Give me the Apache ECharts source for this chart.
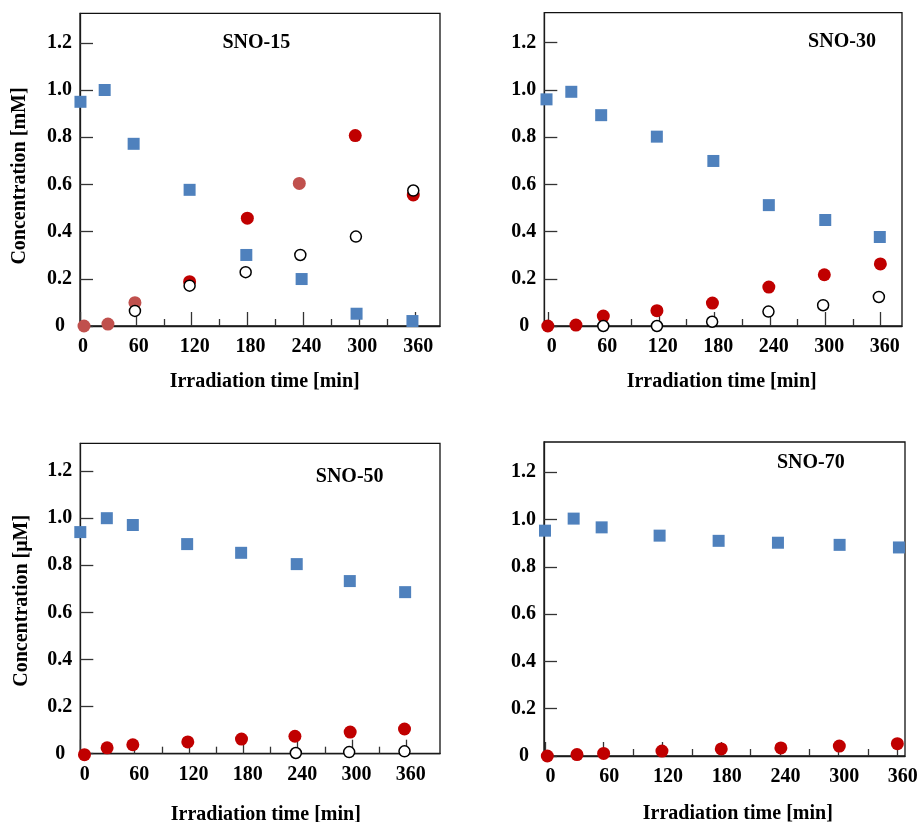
<!DOCTYPE html>
<html>
<head>
<meta charset="utf-8">
<script src="https://cdn.jsdelivr.net/npm/echarts@6/dist/echarts.min.js"></script>
<style>
html,body{margin:0;padding:0;background:#fff;}
#chart{width:921px;height:822px;}
</style>
</head>
<body>
<div id="chart"></div>
<script>
// ---- data ----
const timeTicks = [0, 60, 120, 180, 240, 300, 360];
const minorTimeTicks = [90, 150, 210, 270, 330];
const concTicks = [0, 0.2, 0.4, 0.6, 0.8, 1.0, 1.2];

const panelTitles = ['SNO-15', 'SNO-30', 'SNO-50', 'SNO-70'];
const xAxisTitle = 'Irradiation time [min]';
const yAxisTitles = ['Concentration [mM]', '', 'Concentration [\u03bcM]', ''];

// SNO-15
const sno15Blue  = [[0.5,0.95],[26.5,1.0],[57.6,0.772],[117.7,0.577],[178.6,0.301],[238,0.199],[297,0.052],[357,0.021]];
const sno15Brown = [[4.3,0.0],[30,0.008],[59,0.099],[235.5,0.604]];
const sno15Red   = [[117.7,0.188],[179.7,0.457],[295.6,0.807],[357.9,0.555]];
const sno15Open  = [[59,0.064],[117.7,0.171],[177.9,0.228],[236.6,0.301],[296.3,0.379],[357.9,0.574]];

// SNO-30
const sno30Blue  = [[-1.4,0.96],[25.4,0.992],[57.7,0.893],[117.9,0.802],[179,0.699],[239,0.512],[300,0.449],[359,0.377]];
const sno30Brown = [];
const sno30Red   = [[0,0.0],[30.4,0.004],[60,0.042],[118,0.065],[178,0.097],[239,0.165],[299,0.217],[359.6,0.263]];
const sno30Open  = [[60,0.0],[118,0.0],[177.7,0.018],[238.6,0.061],[297.7,0.088],[358,0.123]];

// SNO-50
const sno50Blue  = [[0,0.941],[29.3,1.0],[58,0.971],[118,0.89],[177.6,0.853],[239,0.805],[297.6,0.733],[358.7,0.686]];
const sno50Brown = [];
const sno50Red   = [[4.6,-0.004],[29.6,0.025],[58,0.038],[118.7,0.05],[178,0.062],[237,0.074],[298,0.092],[358,0.105]];
const sno50Open  = [[238,0.003],[296.9,0.007],[358,0.01]];

// SNO-70
const sno70Blue  = [[0,0.953],[29.3,1.004],[57.9,0.967],[117.1,0.932],[177.4,0.91],[238,0.902],[301,0.893],[361.6,0.882]];
const sno70Brown = [];
const sno70Red   = [[2.4,0.0],[32.7,0.006],[59.9,0.011],[119.5,0.021],[180.1,0.03],[241,0.034],[300.7,0.042],[360,0.052]];
const sno70Open  = [];

// axis extents per panel
const xMins = [0, -3.8, 0, -1];
const xMaxs = [386.6, 383, 397.2, 367.8];
const yMaxs = [1.325, 1.327, 1.318, 1.328];

// ---- layout / styles ----
const grids = [
  {left: 80,    top: 13.3,  width: 360,   height: 312.7},
  {left: 544.3, top: 12.7,  width: 357.7, height: 313.3},
  {left: 80.3,  top: 443.3, width: 359.7, height: 310.4},
  {left: 544,   top: 442,   width: 361,   height: 314}
];
const labelShift = [6, 8, 9, 11];
const titlePos = [[256.3, 43], [842, 41.7], [349.7, 477.3], [810.8, 463.3]];
const xNamePos = [[264.7, 381.5], [721.7, 381.5], [265.8, 815], [737.8, 814]];
const yNamePos = [[20, 176], null, [21.7, 600.8], null];

const FONT = 'Liberation Serif';
const axisCol = '#1a1a1a';
const tickCol = '#333';
const lbl = {fontFamily: FONT, fontWeight: 'bold', fontSize: 20, color: '#000'};

const panels = [
  [sno15Blue, sno15Brown, sno15Red, sno15Open],
  [sno30Blue, sno30Brown, sno30Red, sno30Open],
  [sno50Blue, sno50Brown, sno50Red, sno50Open],
  [sno70Blue, sno70Brown, sno70Red, sno70Open]
];

const option = {
  backgroundColor: '#fff',
  animation: false,
  grid: [], xAxis: [], yAxis: [], series: [], graphic: []
};

panels.forEach((p, i) => {
  const g = grids[i];
  option.grid.push(Object.assign({show: true, borderColor: '#111', borderWidth: 1.3, backgroundColor: 'transparent'}, g));
  option.xAxis.push({
    type: 'value', gridIndex: i, position: 'bottom', min: xMins[i], max: xMaxs[i],
    axisLine: {onZero: false, lineStyle: {color: axisCol, width: 1.3}},
    axisTick: {inside: true, length: 14, customValues: timeTicks, lineStyle: {color: tickCol, width: 1.3}},
    axisLabel: Object.assign({customValues: timeTicks, margin: 11, padding: [0, 0, 0, labelShift[i]]}, lbl),
    splitLine: {show: false}
  });
  option.xAxis.push({
    type: 'value', gridIndex: i, position: 'bottom', min: xMins[i], max: xMaxs[i],
    axisLine: {show: false, onZero: false},
    axisTick: {inside: true, length: 7, customValues: minorTimeTicks, lineStyle: {color: tickCol, width: 1.3}},
    axisLabel: {show: false},
    splitLine: {show: false}
  });
  option.yAxis.push({
    type: 'value', gridIndex: i, min: 0, max: yMaxs[i],
    axisLine: {show: true, onZero: false, lineStyle: {color: axisCol, width: 1.3}},
    axisTick: {show: true, inside: true, length: 13, customValues: concTicks, lineStyle: {color: tickCol, width: 1.3}},
    axisLabel: Object.assign({
      customValues: concTicks, margin: 8,
      formatter: v => (Math.abs(v) < 1e-9 ? '{z|0}' : v.toFixed(1)),
      rich: {z: Object.assign({padding: [0, 7, 0, 0]}, lbl)}
    }, lbl),
    splitLine: {show: false}
  });
  const xi = i * 2;
  option.series.push({
    type: 'scatter', xAxisIndex: xi, yAxisIndex: i, data: p[0], symbol: 'rect', symbolSize: 12,
    clip: false, itemStyle: {color: '#4F81BD', opacity: 1}, z: 2
  });
  option.series.push({
    type: 'scatter', xAxisIndex: xi, yAxisIndex: i, data: p[1], symbol: 'circle', symbolSize: 13,
    clip: false, itemStyle: {color: '#C0504D', opacity: 1}, z: 3
  });
  option.series.push({
    type: 'scatter', xAxisIndex: xi, yAxisIndex: i, data: p[2], symbol: 'circle', symbolSize: 13,
    clip: false, itemStyle: {color: '#C00000', opacity: 1}, z: 3
  });
  option.series.push({
    type: 'scatter', xAxisIndex: xi, yAxisIndex: i, data: p[3], symbol: 'circle', symbolSize: 11,
    clip: false, itemStyle: {color: '#fff', borderColor: '#000', borderWidth: 1.5, opacity: 1}, z: 4
  });
  option.graphic.push({
    type: 'text', x: titlePos[i][0], y: titlePos[i][1],
    style: {text: panelTitles[i], align: 'center', verticalAlign: 'middle', font: 'bold 20px "' + FONT + '"', fill: '#000'}
  });
  option.graphic.push({
    type: 'text', x: xNamePos[i][0], y: xNamePos[i][1],
    style: {text: xAxisTitle, align: 'center', verticalAlign: 'middle', font: 'bold 20px "' + FONT + '"', fill: '#000'}
  });
  if (yNamePos[i]) {
    option.graphic.push({
      type: 'text', x: yNamePos[i][0], y: yNamePos[i][1], rotation: Math.PI / 2,
      style: {text: yAxisTitles[i], align: 'center', verticalAlign: 'middle', font: 'bold 20px "' + FONT + '"', fill: '#000'}
    });
  }
});

const chart = echarts.init(document.getElementById('chart'), null, {renderer: 'canvas'});
chart.setOption(option);
</script>
</body>
</html>
